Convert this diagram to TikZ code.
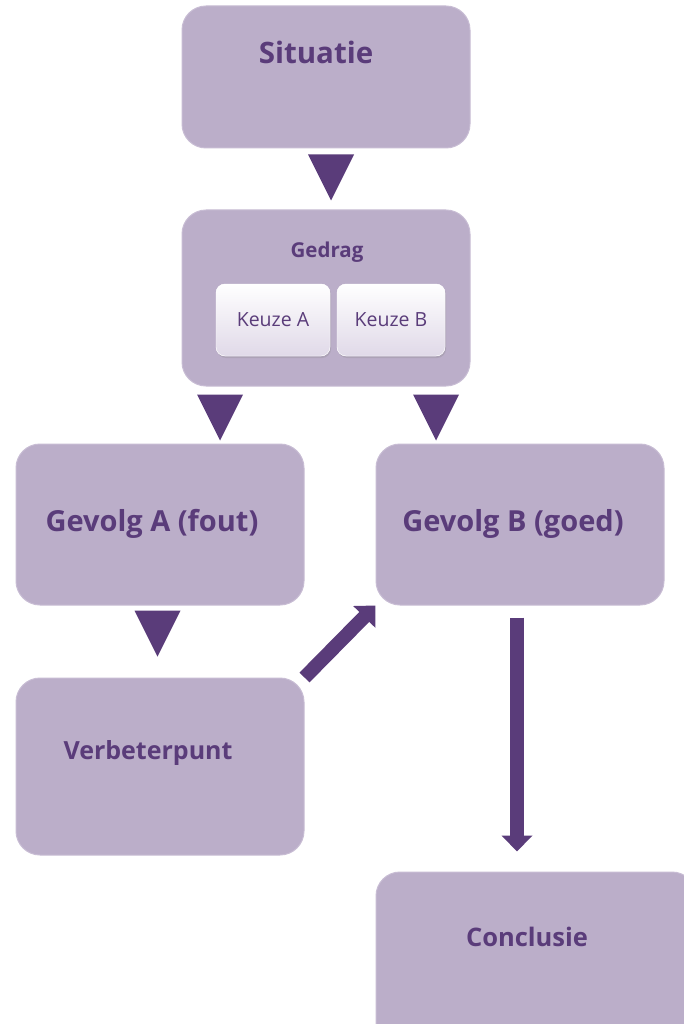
\documentclass[tikz,border=0pt]{standalone}
\usepackage{fontspec}
\setmainfont{Open Sans}
\usepackage{tikz}
\usetikzlibrary{arrows.meta, positioning, shapes.geometric, calc, shadows}
\definecolor{boxfill}{HTML}{BBAEC9}
\definecolor{boxline}{HTML}{C8BDD4}
\definecolor{darkviolet}{HTML}{5A3C7A}
\definecolor{keuzebot}{HTML}{E0D9E8}
\newcommand{\drawpointer}[1]{
    \begin{scope}[shift={(#1)}]
        \fill[darkviolet] (-23,0) -- (23,0) -- (0,46) -- cycle;
    \end{scope}
}

\begin{document}
\begin{tikzpicture}[x=1pt, y=-1pt,
    box/.style={draw=boxline, line width=1pt, fill=boxfill, rounded corners=24pt, minimum width=288pt, inner sep=0pt},
    keuze/.style={draw=white, fill=white, top color=white, bottom color=keuzebot, rounded corners=9pt,
        minimum height=72pt, inner sep=0pt, text=darkviolet, font=\fontsize{19.5}{21}\selectfont,
        drop shadow={opacity=0.25, shadow xshift=1pt, shadow yshift=-2pt}},
    title/.style={text=darkviolet, font=\bfseries\fontsize{#1}{#1}\selectfont},
    blockarrow/.style={darkviolet, line width=14pt, -{Triangle[width=30pt, length=16pt]}}
]
\clip (0,0) rectangle (684,1024);
\fill[white] (0,0) rectangle (684,1024);

% Boxes
\node[box, minimum height=142pt] (situatie) at (326,77) {};
\node[box, minimum height=176pt] (gedrag) at (326,298) {};
\node[box, minimum height=161pt] (gevolgA) at (160,524.5) {};
\node[box, minimum height=161pt] (gevolgB) at (520,524.5) {};
\node[box, minimum height=177pt] (verbeter) at (160,766.5) {};
\node[box, minimum width=320pt, minimum height=180pt] (conclusie) at (536,962) {};

% Box texts
\node[title=29.5] (situatie-txt) at (316,52) {Situatie};
\node[title=20.5] (gedrag-txt) at (327,252) {Gedrag};
\node[title=29] (gevolgA-txt) at (152,524) {Gevolg A (fout)};
\node[title=29] (gevolgB-txt) at (513,524) {Gevolg B (goed)};
\node[title=25] (verbeter-txt) at (148,753) {Verbeterpunt};
\node[title=25.5] (conclusie-txt) at (527,937) {Conclusie};

% Choices inside Gedrag
\node[keuze, minimum width=114pt] (keuzeA) at (273,320) {Keuze A};
\node[keuze, minimum width=108pt] (keuzeB) at (391,320) {Keuze B};

% Pointers between boxes
\drawpointer{$(situatie.south)+(5,6)$}
\drawpointer{$(gedrag.south)+(-106,8)$}
\drawpointer{$(gedrag.south)+(110,8)$}
\drawpointer{$(gevolgA.south)+(-2.5,5)$}

% Block arrows
\draw[blockarrow] (verbeter.north east) -- (gevolgB.south west);
\draw[blockarrow, shorten <=12pt, shorten >=20pt]
  ([xshift=-3pt]gevolgB.south) -- ([xshift=-3pt]gevolgB.south |- conclusie.north);

\end{tikzpicture}
\end{document}
